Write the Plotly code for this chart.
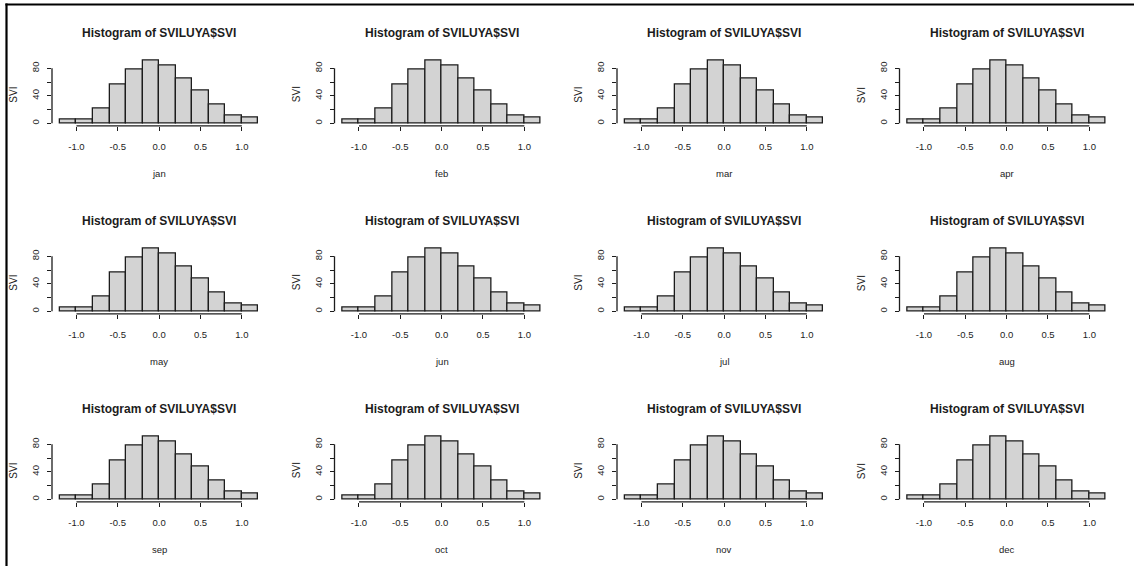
import plotly.graph_objects as go

# Histogram of SVILUYA$SVI, one panel per month
months = ["jan", "feb", "mar", "apr", "may", "jun",
          "jul", "aug", "sep", "oct", "nov", "dec"]
breaks = [-1.2, -1.0, -0.8, -0.6, -0.4, -0.2, 0.0, 0.2, 0.4, 0.6, 0.8, 1.0, 1.2]
counts = [6, 6, 22, 56, 78, 92, 84, 65, 47, 27, 12, 8]
x_ticks = [-1.0, -0.5, 0.0, 0.5, 1.0]
x_tick_text = ["-1.0", "-0.5", "0.0", "0.5", "1.0"]
y_ticks = [0, 20, 40, 60, 80]
y_tick_text = ["0", "", "40", "", "80"]
main_title = "Histogram of SVILUYA$SVI"
y_label = "SVI"

W, H = 1134, 566
FONT = "Liberation Sans Narrow, Arial Narrow, Liberation Sans, Arial, sans-serif"
INK = "#1c1c1c"

# R-style axis limits: 4% padding around the data range
x_lo, x_hi = breaks[0], breaks[-1]
x_pad = 0.04 * (x_hi - x_lo)
x_range = [x_lo - x_pad, x_hi + x_pad]
y_pad = 0.04 * max(counts)
y_range = [-y_pad, max(counts) + y_pad]

# panel grid geometry (pixels)
col_step, row_step = 282.5, 188.0
plot_left, plot_right = 52.0, 266.3
plot_top, plot_bottom = 57.5, 125.8

centers = [(a + b) / 2 for a, b in zip(breaks[:-1], breaks[1:])]
widths = [b - a for a, b in zip(breaks[:-1], breaks[1:])]

fig = go.Figure()
layout = dict(
    width=W, height=H,
    margin=dict(l=0, r=0, t=0, b=0),
    paper_bgcolor="white", plot_bgcolor="white",
    showlegend=False, bargap=0,
    font=dict(family=FONT, color=INK),
)
shapes, annotations = [], []


def frac(v, rng):
    return (v - rng[0]) / (rng[1] - rng[0])


for i, m in enumerate(months):
    r, c = divmod(i, 4)
    k = "" if i == 0 else str(i + 1)
    xa, ya = "x" + k, "y" + k
    x0 = (plot_left + c * col_step) / W
    x1 = (plot_right + c * col_step) / W
    y1 = 1 - (plot_top + r * row_step) / H
    y0 = 1 - (plot_bottom + r * row_step) / H

    fig.add_trace(go.Bar(
        x=centers, y=counts, width=widths, xaxis=xa, yaxis=ya,
        marker=dict(color="#d3d3d3", line=dict(color=INK, width=1.3)),
        hoverinfo="skip",
    ))

    layout["xaxis" + k] = dict(
        domain=[x0, x1], range=x_range, anchor=ya,
        showgrid=False, zeroline=False, showline=False,
        tickmode="array", tickvals=x_ticks, ticktext=x_tick_text,
        ticks="outside", ticklen=4, tickwidth=1.3, tickcolor=INK,
        ticklabelstandoff=8,
        tickfont=dict(family=FONT, size=9.5, color=INK),
    )
    layout["yaxis" + k] = dict(
        domain=[y0, y1], range=y_range, anchor=xa,
        showgrid=False, zeroline=False, showline=False,
        tickmode="array", tickvals=y_ticks, ticktext=y_tick_text,
        ticks="outside", ticklen=4, tickwidth=1.3, tickcolor=INK,
        tickangle=-90, ticklabelstandoff=4,
        tickfont=dict(family=FONT, size=9.5, color=INK),
    )

    # axis lines spanning only the tick range, as base graphics draws them
    shapes.append(dict(type="line", xref=xa + " domain", yref=ya + " domain",
                       x0=frac(x_ticks[0], x_range), x1=frac(x_ticks[-1], x_range),
                       y0=0, y1=0, line=dict(color=INK, width=1.3)))
    shapes.append(dict(type="line", xref=xa + " domain", yref=ya + " domain",
                       x0=0, x1=0, y0=frac(y_ticks[0], y_range),
                       y1=frac(y_ticks[-1], y_range),
                       line=dict(color=INK, width=1.3)))

    xc = (x0 + x1) / 2
    annotations.append(dict(text="<b>" + main_title + "</b>", x=xc, y=y1 + 24.5 / H,
                            xref="paper", yref="paper", showarrow=False,
                            xanchor="center", yanchor="middle",
                            font=dict(family=FONT, size=12, color=INK)))
    annotations.append(dict(text=m, x=xc, y=y0 - 47.5 / H,
                            xref="paper", yref="paper", showarrow=False,
                            xanchor="center", yanchor="middle",
                            font=dict(family=FONT, size=9.5, color=INK)))
    annotations.append(dict(text=y_label, x=x0 - 38 / W, y=(y0 + y1) / 2 - 3 / H,
                            xref="paper", yref="paper", showarrow=False,
                            xanchor="center", yanchor="middle", textangle=-90,
                            font=dict(family=FONT, size=10, color=INK)))

# outer frame: left and top edges
shapes.append(dict(type="line", xref="paper", yref="paper",
                   x0=6.5 / W, x1=6.5 / W, y0=0, y1=1 - 3.5 / H,
                   line=dict(color="black", width=2.2)))
shapes.append(dict(type="line", xref="paper", yref="paper",
                   x0=5.4 / W, x1=1, y0=1 - 4.5 / H, y1=1 - 4.5 / H,
                   line=dict(color="black", width=2.2)))

layout["shapes"] = shapes
layout["annotations"] = annotations
fig.update_layout(**layout)
fig.write_html("out.html")
